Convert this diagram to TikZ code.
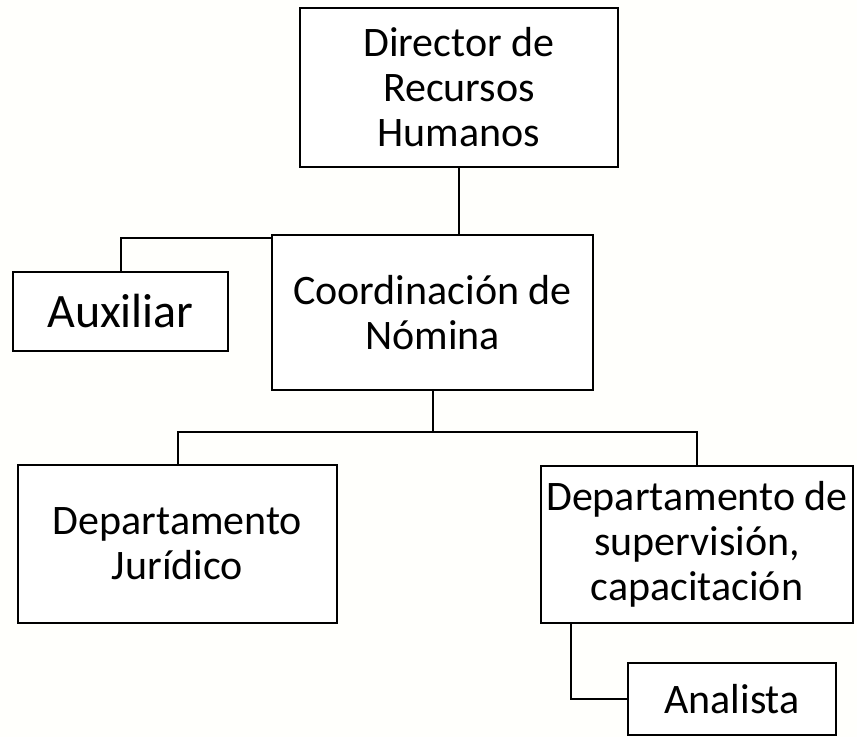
\documentclass[tikz,border=0pt]{standalone}
\usepackage{fontspec}
\setmainfont{Carlito}
\usetikzlibrary{calc}
\definecolor{bgcol}{RGB}{255,255,252}
\tikzset{
  box/.style={draw=black, line width=2.2pt, fill=white, align=center, inner sep=0pt,
    font=\fontsize{42}{45}\selectfont},
  link/.style={draw=black, line width=2pt}
}
\begin{document}
\begin{tikzpicture}[x=1pt,y=-1pt]
\fill[bgcol] (0,0) rectangle (857,737);
\useasboundingbox (0,0) rectangle (857,737);
\node[box, minimum width=318pt, minimum height=159pt] (dir) at (459,87.5) {Director de\\Recursos\\Humanos};
\node[box, minimum width=321pt, minimum height=155pt] (coord) at (432.5,312.5) {Coordinación de\\Nómina};
\node[box, minimum width=215pt, minimum height=79pt, font=\fontsize{48}{50}\selectfont] (aux) at (120.5,311.5) {Auxiliar};
\node[box, minimum width=319pt, minimum height=158pt] (jur) at (177.5,544) {Departamento\\Jurídico};
\node[box, minimum width=312pt, minimum height=157pt] (sup) at (697,544.5) {Departamento de\\supervisión,\\capacitación};
\node[box, minimum width=208pt, minimum height=72pt] (ana) at (732,699) {Analista};
\coordinate (bus) at (432.5,432);
\draw[link] (dir.south) -- (dir.south |- coord.north);
\draw[link] (aux.north) |- ($(coord.north west)+(0,4)$);
\draw[link] (coord.south) -- (bus);
\draw[link] (jur.north) |- (bus) -| (sup.north);
\draw[link] ([xshift=31pt]sup.south west) |- (ana.west);
\end{tikzpicture}
\end{document}
